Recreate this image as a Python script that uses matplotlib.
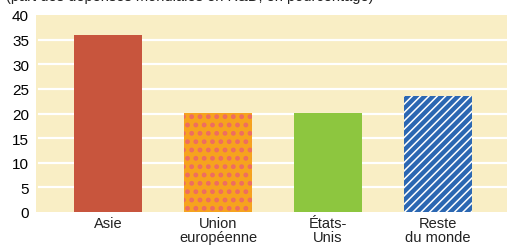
import numpy as np
import matplotlib
matplotlib.use("Agg")
import matplotlib.pyplot as plt

# données (en %)
categories = ["Asie", "Union\neuropéenne", "États-\nUnis", "Reste\ndu monde"]
valeurs = [36.0, 20.2, 20.1, 23.6]
couleurs = ["#C8553D", "#F6A31E", "#8DC63F", "#2B67B2"]
hachures = [None, "..", None, "////"]
couleurs_hachures = ["#C8553D", "#EE6B63", "#8DC63F", "white"]
epaisseurs_hachures = [1.0, 2.2, 1.0, 1.1]
yticks = [0, 5, 10, 15, 20, 25, 30, 35, 40]

plt.rcParams["font.family"] = ["Liberation Sans", "DejaVu Sans"]

fig = plt.figure(figsize=(5.07, 2.51), dpi=100)
ax = fig.add_axes([36/507, 1 - 213/251, 1 - 36/507, 197/251])
ax.set_facecolor("#F9EEC5")

x = np.arange(len(categories))
for yy in yticks[1:-1]:
    ax.axhline(yy, xmin=0.006, xmax=1, color="white", lw=1.6, zorder=1)

for i in range(len(categories)):
    with plt.rc_context({"hatch.linewidth": epaisseurs_hachures[i]}):
        ax.bar(x[i], valeurs[i], width=0.62, color=couleurs[i], hatch=hachures[i],
               edgecolor=couleurs_hachures[i], linewidth=0, zorder=2)

ax.set_xlim(-0.66, 3.63)
ax.set_ylim(0, 40)
ax.set_yticks(yticks)
ax.set_yticklabels([str(t) for t in yticks], fontsize=11)
ax.set_xticks(x)
ax.set_xticklabels(categories, fontsize=10.5, linespacing=0.95, color="#222222",
                   family=["Liberation Sans Narrow", "Liberation Sans", "DejaVu Sans"])
ax.tick_params(axis="both", length=0)
ax.tick_params(axis="y", pad=5)
ax.tick_params(axis="x", pad=3)
for s in ax.spines.values():
    s.set_visible(False)

fig.text(0.012, 1.012, "(part des dépenses mondiales en R&D, en pourcentage)",
         fontsize=10.5, va="center", ha="left", color="#222222")

fig.savefig("out.png", dpi=100)
